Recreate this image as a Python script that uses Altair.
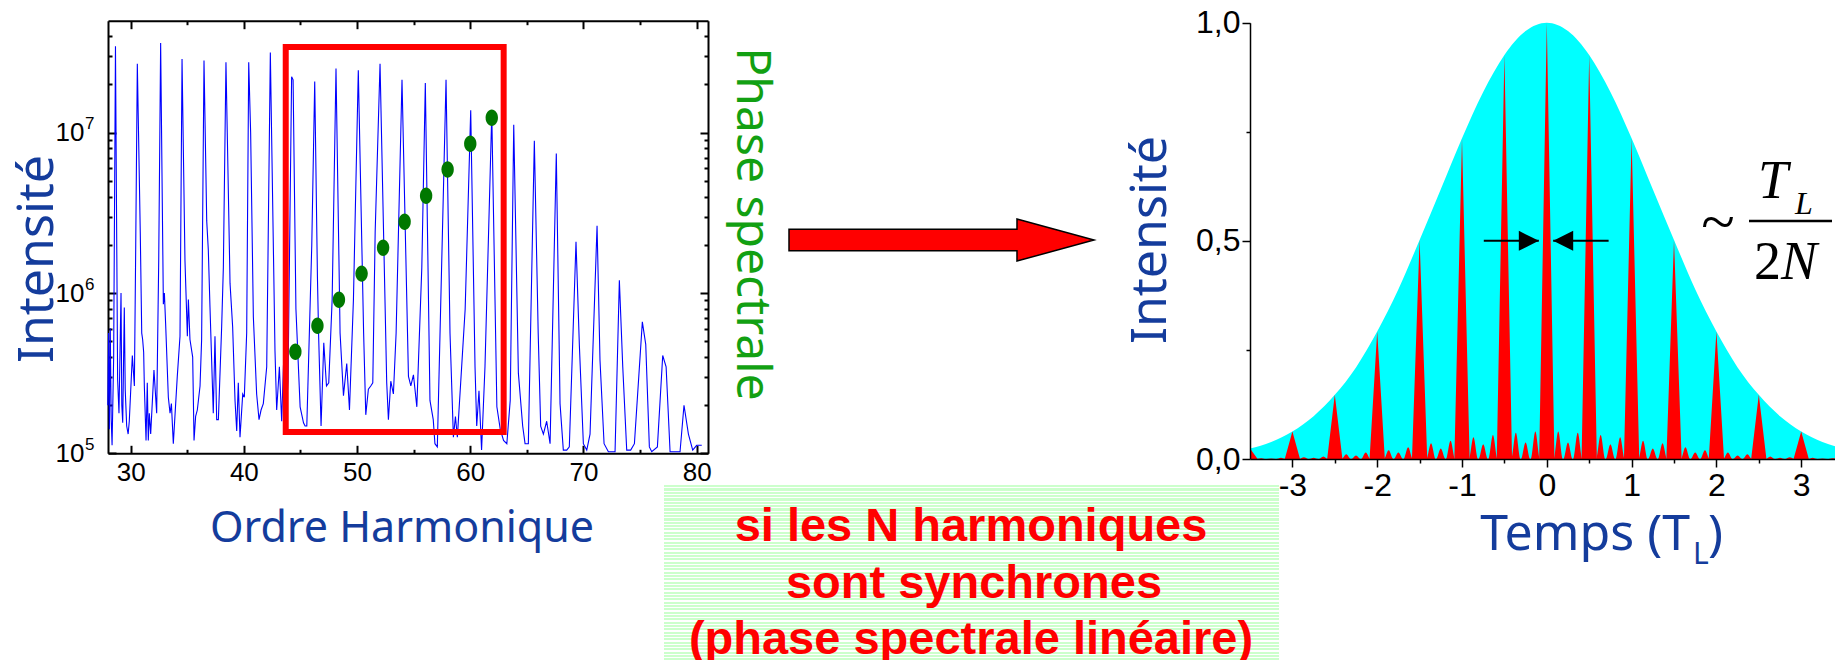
import altair as alt
import pandas as pd

W, H = 1827, 652

TITLE_BLUE = "#143c9c"
PHASE_GREEN = "#12a012"
DOT_GREEN = "#007800"
TITLE_FONT = "Comic Sans MS, Noto Sans"
NUM_FONT = "Liberation Sans, Arial"

# ---------------- left panel: harmonic spectrum ----------------
SPEC_X = [
    27.98, 28.05, 28.12, 28.2, 28.28, 28.36, 28.5, 28.66,
    28.85, 28.97, 29.15, 29.22, 29.3, 29.44, 29.52, 29.65, 29.78, 29.88, 30.15, 30.33, 30.45, 30.59,
    30.85, 30.98, 31.06, 31.15, 31.21, 31.36, 31.47, 31.56, 31.65, 31.77, 32.06, 32.3, 32.48, 32.65,
    32.89, 32.98, 33.09, 33.33, 33.48, 33.6, 33.77, 34.12, 34.36, 34.54,
    34.8, 35.01, 35.1, 35.24, 35.48, 35.6, 35.74, 35.89, 36.13, 36.27, 36.48,
    36.72, 36.86, 37.01, 37.3, 37.45, 37.6, 37.75, 38.04, 38.19, 38.42,
    38.78, 39.01, 39.22, 39.37, 39.51, 39.66, 39.9, 40.04, 40.25, 40.43,
    40.6, 40.84, 41.13, 41.34, 41.52, 41.72, 42.02, 42.34,
    42.75, 42.9, 43.14, 43.34, 43.5, 43.7, 43.9, 44.22,
    44.35, 44.6, 44.97, 45.27, 45.41, 45.56, 46.0, 46.26,
    46.5, 46.6, 46.82, 47.06, 47.3, 47.5, 47.8, 48.14,
    48.5, 48.8, 49.09, 49.33, 49.68, 50.11,
    50.58, 50.77, 51.0, 51.21, 51.39, 51.6, 52.03,
    52.62, 52.77, 52.98, 53.21, 53.45, 53.97,
    54.54, 54.75, 54.98, 55.28, 55.72, 56.03,
    56.44, 56.73, 56.88, 57.09, 57.33, 57.86,
    58.21, 58.51, 58.69, 58.86, 59.55, 60.04,
    60.42, 60.57, 60.77, 61.0, 61.3, 61.9,
    62.35, 62.65, 62.94, 63.23, 63.53, 63.84,
    64.25, 64.63, 64.84, 65.13, 65.66,
    66.0, 66.22, 66.46, 66.75, 67.05, 67.6,
    67.93, 68.22, 68.52, 68.75, 69.34,
    69.64, 69.99, 70.29, 70.58, 71.2,
    71.46, 71.82, 72.2, 72.79, 73.17,
    73.47, 73.82, 74.17, 74.5, 75.2, 75.5,
    75.82, 76.03, 76.53, 77.0, 77.3,
    77.65, 78.53, 78.88,
    79.27, 79.65, 80.0, 80.45,
]
SPEC_LOG = [
    5.30, 5.75, 5.15, 5.78, 5.22, 5.05, 5.60, 7.54,
    5.46, 5.25, 6.00, 5.30, 5.19, 5.91, 5.40, 5.17, 5.12, 5.20, 5.61, 5.42, 6.30, 7.43,
    6.38, 5.75, 5.71, 5.63, 5.42, 5.08, 5.44, 5.08, 5.25, 5.12, 5.52, 5.25, 6.20, 7.56,
    5.93, 6.00, 5.81, 5.35, 5.25, 5.31, 5.06, 5.48, 5.73, 7.46,
    6.20, 5.73, 5.96, 5.71, 5.60, 5.08, 5.23, 5.27, 5.42, 5.71, 7.45,
    6.45, 6.27, 5.91, 5.25, 5.73, 5.21, 5.21, 5.79, 6.16, 7.44,
    6.06, 5.79, 5.33, 5.14, 5.44, 5.10, 5.37, 5.35, 5.75, 7.44,
    7.00, 5.85, 5.37, 5.21, 5.27, 5.31, 5.54, 7.50,
    5.64, 5.27, 5.54, 5.20, 5.55, 5.20, 5.45, 7.35,
    7.33, 5.90, 5.29, 5.19, 5.17, 5.17, 6.30, 7.32,
    6.10, 5.75, 5.17, 5.69, 5.42, 5.44, 5.96, 7.40,
    5.75, 5.36, 5.56, 5.27, 5.96, 7.39,
    5.75, 5.24, 5.40, 5.42, 5.44, 6.38, 7.43,
    5.44, 5.21, 5.45, 5.37, 5.75, 7.33,
    5.48, 5.42, 5.49, 5.29, 6.16, 7.31,
    5.33, 5.21, 5.06, 5.04, 5.75, 7.33,
    5.75, 5.10, 5.23, 5.10, 5.90, 7.14,
    5.54, 5.17, 5.39, 5.02, 5.54, 7.12,
    5.29, 5.15, 5.08, 5.06, 5.33, 7.05,
    5.50, 5.17, 5.06, 5.06, 6.95,
    5.75, 5.17, 5.12, 5.20, 5.06, 6.87,
    5.31, 5.02, 5.02, 5.04, 6.32,
    5.67, 5.06, 5.02, 5.12, 6.42,
    5.58, 5.06, 5.01, 5.01, 6.08,
    5.54, 5.02, 5.02, 5.06, 5.82, 5.68,
    5.04, 5.01, 5.04, 5.61, 5.54,
    5.01, 5.01, 5.30,
    5.12, 5.02, 5.05, 5.05,
]
PHASE_X = [44.55, 46.5, 48.4, 50.4, 52.3, 54.2, 56.1, 58.0, 60.0, 61.9]
PHASE_LOG = [5.634, 5.796, 5.958, 6.121, 6.283, 6.445, 6.607, 6.770, 6.932, 7.094]
BOX_X = [43.7, 62.95]
BOX_I = [1.36e5, 3.43e7]
XL_TICKS = [30, 40, 50, 60, 70, 80]
XL_MINOR = [35, 45, 55, 65, 75]
YL_TICKS = [1e5, 1e6, 1e7]
YL_EXPONENTS = ["5", "6", "7"]
YL_MINOR = [2e5, 3e5, 4e5, 5e5, 6e5, 7e5, 8e5, 9e5,
            2e6, 3e6, 4e6, 5e6, 6e6, 7e6, 8e6, 9e6,
            2e7, 3e7, 4e7]

# ---------------- right panel: attosecond pulse train ----------------
ENV_T = [-3.5, -3.25, -3.0, -2.75, -2.5, -2.25, -2.0, -1.75, -1.5, -1.25, -1.0, -0.75, -0.5, -0.25, 0.0,
         0.25, 0.5, 0.75, 1.0, 1.25, 1.5, 1.75, 2.0, 2.25, 2.5, 2.75, 3.0, 3.25, 3.5]
ENV_V = [0.024, 0.039, 0.063, 0.098, 0.147, 0.21, 0.292, 0.389, 0.502, 0.618, 0.735, 0.841, 0.926, 0.981, 1.0,
         0.981, 0.926, 0.841, 0.735, 0.618, 0.502, 0.389, 0.292, 0.21, 0.147, 0.098, 0.063, 0.039, 0.024]
PULSE_T = [-3.5, -3.0, -2.5, -2.0, -1.5, -1.0, -0.5, 0.0, 0.5, 1.0, 1.5, 2.0, 2.5, 3.0, 3.5]
PULSE_H = [0.024, 0.063, 0.147, 0.292, 0.502, 0.735, 0.926, 1.0, 0.926, 0.735, 0.502, 0.292, 0.147, 0.063, 0.024]
LOBE_T = [-3.365, -3.25, -3.135, -2.865, -2.75, -2.635, -2.365, -2.25, -2.135,
          -1.865, -1.75, -1.635, -1.365, -1.25, -1.135, -0.865, -0.75, -0.635,
          -0.365, -0.25, -0.135, 0.135, 0.25, 0.365, 0.635, 0.75, 0.865,
          1.135, 1.25, 1.365, 1.635, 1.75, 1.865, 2.135, 2.25, 2.365,
          2.635, 2.75, 2.865, 3.135, 3.25, 3.365]
LOBE_H = [0.002, 0.001, 0.003, 0.004, 0.003, 0.006, 0.011, 0.008, 0.015,
          0.020, 0.015, 0.027, 0.036, 0.024, 0.042, 0.050, 0.034, 0.055,
          0.060, 0.038, 0.063, 0.063, 0.038, 0.060, 0.055, 0.034, 0.050,
          0.042, 0.024, 0.036, 0.027, 0.015, 0.020, 0.015, 0.008, 0.011,
          0.006, 0.003, 0.004, 0.003, 0.001, 0.002]
XR_TICKS = [-3, -2, -1, 0, 1, 2, 3]
XR_MINOR = [-2.5, -1.5, -0.5, 0.5, 1.5, 2.5]
YR_TICKS = [0.0, 0.5, 1.0]
YR_MINOR = [0.25, 0.75]
ARROW_TAIL = [-0.743, 0.729]
ARROW_TIP = [-0.094, 0.075]
ARROW_LEVEL = [0.5, 0.5]

# ---------------- scales (each panel has its own pixel range) ----------------
def sc_xl():
    return alt.Scale(domain=[28, 81], range=[100, 700], nice=False, zero=False)

def sc_yl():
    return alt.Scale(type="log", domain=[1e5, 5e7], range=[445.3, 12.7], nice=False)

def sc_xr():
    return alt.Scale(domain=[-3.5, 3.5], range=[1242, 1835.6], nice=False, zero=False)

def sc_yr():
    return alt.Scale(domain=[0, 1], range=[451, 14.7], nice=False, zero=False)


def axis(orient, offset, values, labels=False, domain=False, tick=0, width=2.0,
         font_size=26, zindex=0, **kw):
    return alt.Axis(orient=orient, offset=offset, values=values, labels=labels,
                    domain=domain, ticks=tick > 0, tickSize=tick, tickColor="black",
                    tickWidth=width, domainColor="black", domainWidth=width,
                    grid=False, title=None, labelFont=NUM_FONT, labelFontSize=font_size,
                    labelColor="black", labelFlush=False, labelOverlap=False,
                    zindex=zindex, **kw)


def guide(row, xs, ys, xa, ya):
    return alt.Chart(pd.DataFrame(row)).mark_point(opacity=0).encode(
        x=alt.X("gx:Q", scale=xs, axis=xa), y=alt.Y("gy:Q", scale=ys, axis=ya))


def text(txt, x, y, size, color, font, **kw):
    return alt.Chart(pd.DataFrame({"s": [txt]})).mark_text(
        fontSize=size, color=color, font=font, **kw).encode(
        x=alt.value(x), y=alt.value(y), text="s:N")


# ---------------- left panel layers ----------------
spec_df = pd.DataFrame({"h": SPEC_X, "I": [10 ** v for v in SPEC_LOG]})
blue = alt.Chart(spec_df).mark_line(color="#0000ff", strokeWidth=1.1).encode(
    x=alt.X("h:Q", scale=sc_xl(),
            axis=axis("bottom", 445.3 - H, XL_TICKS, labels=True, domain=True,
                      labelPadding=6, labelExpr="'' + datum.value")),
    y=alt.Y("I:Q", scale=sc_yl(),
            axis=axis("left", -100, YL_TICKS, labels=True, domain=True,
                      labelPadding=24, labelExpr="'10'")),
)
box_df = pd.DataFrame({"x1": [BOX_X[0]], "x2": [BOX_X[1]], "y1": [BOX_I[0]], "y2": [BOX_I[1]]})
box = alt.Chart(box_df).mark_rect(fill="transparent", stroke="#ff0000", strokeWidth=6).encode(
    x=alt.X("x1:Q", scale=sc_xl(), axis=None), x2="x2:Q",
    y=alt.Y("y1:Q", scale=sc_yl(), axis=None), y2="y2:Q")
dot_df = pd.DataFrame({"h": PHASE_X, "I": [10 ** v for v in PHASE_LOG]})
ELLIPSE = "M-0.75,0 A0.75,1 0 1,1 0.75,0 A0.75,1 0 1,1 -0.75,0 Z"
dots = alt.Chart(dot_df).mark_point(shape=ELLIPSE, size=272, filled=True, color=DOT_GREEN,
                                    opacity=1).encode(
    x=alt.X("h:Q", scale=sc_xl(), axis=None), y=alt.Y("I:Q", scale=sc_yl(), axis=None))

lrow = {"gx": [30], "gy": [1e6]}
exp_expr = ("datum.value < 500000 ? '%s' : (datum.value < 5000000 ? '%s' : '%s')"
            % tuple(YL_EXPONENTS))
lg0 = guide(lrow, sc_xl(), sc_yl(), None,
            axis("left", -100, YL_TICKS, labels=True, font_size=17, labelPadding=14,
                 labelOffset=-9, labelExpr=exp_expr))
lg1 = guide(lrow, sc_xl(), sc_yl(), axis("top", -445.3, XL_TICKS, tick=8),
            axis("right", 100 - W, YL_TICKS, tick=8))
lg2 = guide(lrow, sc_xl(), sc_yl(), axis("top", -445.3, XL_MINOR, tick=4),
            axis("right", 100 - W, YL_MINOR, tick=4))
lg3 = guide(lrow, sc_xl(), sc_yl(), axis("bottom", 12.7 - H, XL_TICKS, tick=8, domain=True),
            axis("left", -700, YL_TICKS, tick=8, domain=True))
lg4 = guide(lrow, sc_xl(), sc_yl(), axis("bottom", 12.7 - H, XL_MINOR, tick=4),
            axis("left", -700, YL_MINOR, tick=4))

# ---------------- right panel layers ----------------
env_df = pd.DataFrame({"t": ENV_T, "v": ENV_V})
env = alt.Chart(env_df).mark_area(color="#00ffff", interpolate="monotone", opacity=1).encode(
    x=alt.X("t:Q", scale=sc_xr(),
            axis=axis("bottom", 451 - H, XR_TICKS, labels=True, domain=True, tick=8,
                      width=1.5, font_size=32, labelPadding=3, zindex=1,
                      labelExpr="'' + datum.value")),
    y=alt.Y("v:Q", scale=sc_yr(),
            axis=axis("left", -1242, YR_TICKS, labels=True, domain=True, tick=8,
                      width=1.5, font_size=32, labelPadding=2, zindex=1,
                      labelExpr="replace(format(datum.value, '.1f'), '.', ',')")),
)

PEAK_HALF = 0.09
LOBE_HALF = 0.055
pk_rows = []
for t, h in zip(PULSE_T, PULSE_H):
    for dt, v in ((-PEAK_HALF, 0.0), (0.0, h), (PEAK_HALF, 0.0)):
        if -3.5 <= t + dt <= 3.5:
            pk_rows.append({"t": t + dt, "v": v})
lb_rows = []
for c, h in zip(LOBE_T, LOBE_H):
    for dt, v in ((-LOBE_HALF, 0.0), (0.0, h), (LOBE_HALF, 0.0)):
        lb_rows.append({"t": c + dt, "v": v})

lobes = alt.Chart(pd.DataFrame(lb_rows)).mark_area(color="#ff0000", interpolate="monotone",
                                                   opacity=1).encode(
    x=alt.X("t:Q", scale=sc_xr(), axis=None), y=alt.Y("v:Q", scale=sc_yr(), axis=None))
peaks = alt.Chart(pd.DataFrame(pk_rows)).mark_area(color="#ff0000", interpolate="linear",
                                                   opacity=1).encode(
    x=alt.X("t:Q", scale=sc_xr(), axis=None), y=alt.Y("v:Q", scale=sc_yr(), axis=None))

rrow = {"gx": [0], "gy": [0.5]}
rg1 = guide(rrow, sc_xr(), sc_yr(),
            axis("bottom", 451 - H, XR_MINOR, tick=4, width=1.5, zindex=1),
            axis("left", -1242, YR_MINOR, tick=4, width=1.5, zindex=1))

arr_df = pd.DataFrame({"tail": ARROW_TAIL, "tip": ARROW_TIP, "lvl": ARROW_LEVEL})
arr_lines = alt.Chart(arr_df).mark_rule(color="black", strokeWidth=2).encode(
    x=alt.X("tail:Q", scale=sc_xr(), axis=None), x2="tip:Q",
    y=alt.Y("lvl:Q", scale=sc_yr(), axis=None))
HEAD_R = "M-2,-1 L0,0 L-2,1 Z"
HEAD_L = "M2,-1 L0,0 L2,1 Z"
head_r = alt.Chart(arr_df.iloc[[0]]).mark_point(shape=HEAD_R, size=400, filled=True,
                                                 color="black", opacity=1).encode(
    x=alt.X("tip:Q", scale=sc_xr(), axis=None), y=alt.Y("lvl:Q", scale=sc_yr(), axis=None))
head_l = alt.Chart(arr_df.iloc[[1]]).mark_point(shape=HEAD_L, size=400, filled=True,
                                                 color="black", opacity=1).encode(
    x=alt.X("tip:Q", scale=sc_xr(), axis=None), y=alt.Y("lvl:Q", scale=sc_yr(), axis=None))

# ---------------- middle: block arrow and striped note ----------------
BIG_ARROW = "M-1,-0.071 L0.495,-0.071 L0.495,-0.138 L1,0 L0.495,0.138 L0.495,0.071 L-1,0.071 Z"
one = pd.DataFrame({"k": [0]})
big_arrow = alt.Chart(one).mark_point(shape=BIG_ARROW, size=93025, filled=True,
                                      fill="#ff0000", stroke="black", strokeWidth=1.5,
                                      opacity=1, fillOpacity=1, strokeOpacity=1).encode(
    x=alt.value(933.5), y=alt.value(232))

box_h = 183.0
period = 3.33
stops = []
k = 0
while k * period < box_h:
    a = k * period / box_h
    b = min((k * period + 2.2) / box_h, 1.0)
    c = min(((k + 1) * period) / box_h, 1.0)
    stops += [alt.GradientStop(color="#ccffcc", offset=a),
              alt.GradientStop(color="#ccffcc", offset=b),
              alt.GradientStop(color="#ffffff", offset=b),
              alt.GradientStop(color="#ffffff", offset=c)]
    k += 1
stripes = alt.LinearGradient(gradient="linear", stops=stops, x1=0, x2=0, y1=0, y2=1)
note_bg = alt.Chart(one).mark_rect(fill=stripes).encode(
    x=alt.value(656), x2=alt.value(1271), y=alt.value(477), y2=alt.value(660))

NOTE_FONT = dict(fontWeight="bold", align="center", baseline="alphabetic")
note1 = text("si les N harmoniques", 963, 533, 47, "#ff0000", NUM_FONT, **NOTE_FONT)
note2 = text(" sont synchrones", 966, 590, 47, "#ff0000", NUM_FONT, **NOTE_FONT)
note3 = text("(phase spectrale linéaire)", 963, 646, 47, "#ff0000", NUM_FONT, **NOTE_FONT)

# ---------------- titles & formula ----------------
t_int_l = text("Intensité", 45, 251, 50, TITLE_BLUE, TITLE_FONT, angle=270,
               align="center", baseline="alphabetic")
t_phase = text("Phase spectrale", 729, 216, 48, PHASE_GREEN, TITLE_FONT, angle=90,
               align="center", baseline="alphabetic")
t_ordre = text("Ordre Harmonique", 394, 534, 43, TITLE_BLUE, TITLE_FONT,
               align="center", baseline="alphabetic")
t_int_r = text("Intensité", 1158, 232, 50, TITLE_BLUE, TITLE_FONT, angle=270,
               align="center", baseline="alphabetic")
t_temps = text("Temps (T", 1682, 542, 50, TITLE_BLUE, TITLE_FONT, align="right",
               baseline="alphabetic")
t_temps_l = text("L", 1685, 556, 30, TITLE_BLUE, TITLE_FONT, align="left",
                 baseline="alphabetic")
t_temps_p = text(")", 1700, 542, 50, TITLE_BLUE, TITLE_FONT, align="left",
                 baseline="alphabetic")

SERIF = "Liberation Serif, Times New Roman"
f_tilde = text("~", 1710, 215, 62, "black", SERIF, align="center", baseline="middle")
f_T = text("T", 1750, 190, 54, "black", SERIF, fontStyle="italic", align="left",
           baseline="alphabetic")
f_L = text("L", 1787, 206, 32, "black", SERIF, fontStyle="italic", align="left",
           baseline="alphabetic")
f_bar = alt.Chart(one).mark_rule(color="black", strokeWidth=2.5).encode(
    x=alt.value(1741), x2=alt.value(1824), y=alt.value(213))
f_2 = text("2", 1746, 271, 54, "black", SERIF, align="left", baseline="alphabetic")
f_N = text("N", 1773, 271, 54, "black", SERIF, fontStyle="italic", align="left",
           baseline="alphabetic")

layers = [
    blue, box, dots, lg0, lg1, lg2, lg3, lg4,
    env, lobes, peaks, rg1, arr_lines, head_r, head_l,
    big_arrow, note_bg, note1, note2, note3,
    t_int_l, t_phase, t_ordre, t_int_r, t_temps, t_temps_l, t_temps_p,
    f_tilde, f_T, f_L, f_bar, f_2, f_N,
]

chart = alt.layer(*layers).resolve_scale(
    x="independent", y="independent"
).resolve_axis(
    x="independent", y="independent"
).properties(
    width=W, height=H, autosize=alt.AutoSizeParams(type="none"), padding=0,
    background="white"
).configure_view(strokeWidth=0, stroke=None)

chart.save("out.html", embed_options={"renderer": "svg", "actions": False})
